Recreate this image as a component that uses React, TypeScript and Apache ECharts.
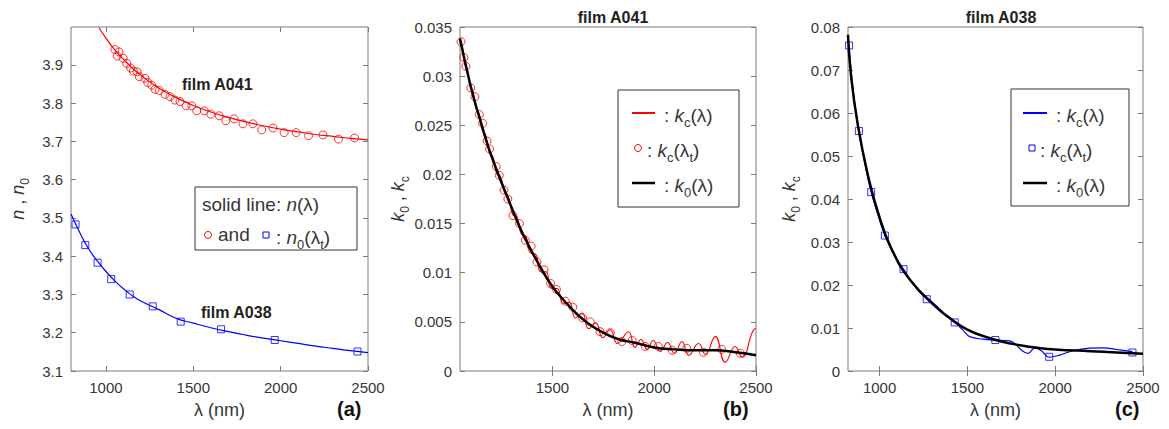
import React, { useEffect, useRef } from "react";
import * as echarts from "echarts";

// ---------- Panel (a): refractive index ----------
const lambdaT_A041 = [1051, 1065, 1075, 1099, 1119, 1141, 1157, 1179, 1191, 1224, 1239, 1262, 1281, 1306, 1338, 1367, 1395, 1424, 1459, 1491, 1520, 1563, 1600, 1648, 1686, 1734, 1784, 1841, 1892, 1956, 2020, 2089, 2160, 2242, 2331, 2423];
const n0_A041 = [3.940, 3.923, 3.934, 3.917, 3.904, 3.892, 3.884, 3.882, 3.869, 3.865, 3.854, 3.847, 3.836, 3.833, 3.823, 3.817, 3.808, 3.804, 3.793, 3.793, 3.780, 3.780, 3.771, 3.767, 3.754, 3.759, 3.746, 3.746, 3.730, 3.735, 3.723, 3.723, 3.715, 3.717, 3.706, 3.709];
const lambdaLine_A041 = [960, 1000, 1050, 1100, 1150, 1200, 1300, 1400, 1500, 1600, 1700, 1800, 1900, 2000, 2100, 2200, 2300, 2400, 2500];
const nLine_A041 = [3.997, 3.970, 3.940, 3.915, 3.892, 3.873, 3.840, 3.815, 3.794, 3.777, 3.763, 3.751, 3.741, 3.732, 3.725, 3.718, 3.713, 3.708, 3.704];

const lambdaT_A038 = [826, 882, 952, 1030, 1136, 1268, 1428, 1659, 1966, 2440];
const n0_A038 = [3.483, 3.429, 3.383, 3.340, 3.300, 3.269, 3.229, 3.209, 3.181, 3.151];
const lambdaLine_A038 = [800, 850, 900, 950, 1000, 1050, 1100, 1150, 1200, 1300, 1400, 1500, 1600, 1700, 1800, 1900, 2000, 2100, 2200, 2300, 2400, 2500];
const nLine_A038 = [3.510, 3.462, 3.420, 3.388, 3.360, 3.336, 3.315, 3.297, 3.283, 3.261, 3.238, 3.225, 3.213, 3.203, 3.194, 3.186, 3.179, 3.172, 3.165, 3.159, 3.153, 3.148];

const nTicks = [3.1, 3.2, 3.3, 3.4, 3.5, 3.6, 3.7, 3.8, 3.9];
const lambdaTicksA = [1000, 1500, 2000, 2500];

// ---------- Panel (b): film A041 extinction ----------
const kcT_A041 = [0.0335, 0.0319, 0.0310, 0.0288, 0.0279, 0.0261, 0.0252, 0.0234, 0.0226, 0.0208, 0.0199, 0.0184, 0.0175, 0.0158, 0.0150, 0.0133, 0.0127, 0.0111, 0.0103, 0.0089, 0.0083, 0.0071, 0.0065, 0.0054, 0.0050, 0.0040, 0.0039, 0.0030, 0.0031, 0.0025, 0.0025, 0.0021, 0.0023, 0.0019, 0.0022, 0.0018];
const lambdaKc_A041 = [1046, 1058, 1070, 1082, 1095, 1110, 1125, 1140, 1156, 1172, 1190, 1208, 1226, 1245, 1264, 1284, 1305, 1326, 1348, 1370, 1393, 1417, 1442, 1468, 1495, 1523, 1552, 1582, 1613, 1645, 1678, 1712, 1747, 1783, 1820, 1874, 1905, 1935, 1965, 1995, 2030, 2065, 2100, 2136, 2170, 2218, 2251, 2300, 2349, 2398, 2431, 2488, 2500];
const kcLine_A041 = [0.0338, 0.0330, 0.0312, 0.0307, 0.0290, 0.0284, 0.0267, 0.0262, 0.0245, 0.0240, 0.0222, 0.0218, 0.0201, 0.0198, 0.0182, 0.0177, 0.0159, 0.0157, 0.0139, 0.0137, 0.0120, 0.0119, 0.0101, 0.0101, 0.0084, 0.0084, 0.0069, 0.0070, 0.0054, 0.0059, 0.0043, 0.0049, 0.0034, 0.0042, 0.0028, 0.0040, 0.0024, 0.0032, 0.0022, 0.0031, 0.0020, 0.0029, 0.0018, 0.0030, 0.0016, 0.0028, 0.0017, 0.0035, 0.0009, 0.0025, 0.0014, 0.0042, 0.0043];
const lambdaK0_A041 = [1046, 1080, 1112, 1150, 1185, 1225, 1267, 1300, 1340, 1380, 1440, 1500, 1560, 1620, 1685, 1750, 1830, 1900, 2000, 2100, 2200, 2300, 2400, 2500];
const k0_A041 = [0.0338, 0.0306, 0.0279, 0.0252, 0.0228, 0.0205, 0.0183, 0.0166, 0.0146, 0.0129, 0.0106, 0.0086, 0.0071, 0.0058, 0.0047, 0.0039, 0.0032, 0.0029, 0.0024, 0.0022, 0.0021, 0.0021, 0.0019, 0.0016];
const kTicksB = [0, 0.005, 0.01, 0.015, 0.02, 0.025, 0.03, 0.035];
const lambdaTicksB = [1500, 2000, 2500];

// ---------- Panel (c): film A038 extinction ----------
const kcT_A038 = [0.0757, 0.0558, 0.0416, 0.0315, 0.0237, 0.0167, 0.0113, 0.0072, 0.0033, 0.0043];
const lambdaKc_A038 = [826, 850, 882, 915, 952, 990, 1030, 1080, 1136, 1200, 1268, 1340, 1428, 1475, 1513, 1589, 1659, 1741, 1769, 1807, 1845, 1883, 1921, 1966, 2025, 2101, 2196, 2272, 2348, 2440];
const kcLine_A038 = [0.0757, 0.0650, 0.0558, 0.0485, 0.0416, 0.0364, 0.0315, 0.0272, 0.0237, 0.0197, 0.0167, 0.0140, 0.0113, 0.0095, 0.0080, 0.0074, 0.0072, 0.0070, 0.0064, 0.0049, 0.0041, 0.0053, 0.0047, 0.0032, 0.0037, 0.0047, 0.0053, 0.0054, 0.0050, 0.0045];
const lambdaK0_A038 = [820, 837, 876, 933, 990, 1067, 1181, 1332, 1399, 1500, 1600, 1700, 1800, 1900, 2000, 2200, 2350, 2500];
const k0_A038 = [0.0782, 0.0688, 0.0572, 0.0456, 0.0370, 0.0285, 0.0208, 0.0146, 0.0123, 0.0096, 0.0080, 0.0068, 0.0060, 0.0054, 0.0050, 0.0046, 0.0043, 0.0040];
const kTicksC = [0, 0.01, 0.02, 0.03, 0.04, 0.05, 0.06, 0.07, 0.08];
const lambdaTicksC = [1000, 1500, 2000, 2500];

const zip = (xs: number[], ys: number[]) => xs.map((x, i) => [x, ys[i]]);

const FONT = "'Liberation Sans', Arial, Helvetica, sans-serif";
const AXIS = "#7a7a7a";
const TXT = "#363636";
const RED = "#ff0000";
const BLUE = "#0000ff";

const richMath = (size: number) => ({
  i: { fontStyle: "italic", fontSize: size, fontFamily: FONT, color: TXT },
  s: { fontSize: Math.round(size * 0.68), fontFamily: FONT, color: TXT, padding: [Math.round(size * 0.8), 0, 0, 0] },
  t: { fontSize: size, fontFamily: FONT, color: TXT },
});

function xAxes(gridIndex: number, min: number, max: number, ticks: number[]) {
  return [
    {
      type: "value", gridIndex, min, max, position: "bottom",
      axisLine: { show: false }, splitLine: { show: false },
      axisTick: { inside: true, length: 5, lineStyle: { color: AXIS }, customValues: ticks },
      axisLabel: { customValues: ticks, color: TXT, fontSize: 15, fontFamily: FONT, margin: 9, formatter: (v: number) => String(v) },
      name: "λ (nm)", nameLocation: "middle", nameGap: 30,
      nameTextStyle: { fontSize: 18, color: TXT, fontFamily: FONT },
    },
    {
      type: "value", gridIndex, min, max, position: "top",
      axisLine: { show: false }, splitLine: { show: false },
      axisTick: { inside: true, length: 5, lineStyle: { color: AXIS }, customValues: ticks },
      axisLabel: { show: false, customValues: ticks },
    },
  ];
}

function yAxes(gridIndex: number, min: number, max: number, ticks: number[], name: string, gap: number, fmt: (v: number) => string) {
  return [
    {
      type: "value", gridIndex, min, max, position: "left",
      axisLine: { show: false }, splitLine: { show: false },
      axisTick: { inside: true, length: 5, lineStyle: { color: AXIS }, customValues: ticks },
      axisLabel: { customValues: ticks, color: TXT, fontSize: 15, fontFamily: FONT, margin: 8, formatter: fmt },
      name, nameLocation: "middle", nameGap: gap, nameRotate: 90,
      nameTextStyle: { fontSize: 18, color: TXT, fontFamily: FONT, rich: richMath(18) },
    },
    {
      type: "value", gridIndex, min, max, position: "right",
      axisLine: { show: false }, splitLine: { show: false },
      axisTick: { inside: true, length: 5, lineStyle: { color: AXIS }, customValues: ticks },
      axisLabel: { show: false, customValues: ticks },
    },
  ];
}

const legendText = (x: number, y: number, text: string, size = 19) => ({
  type: "text", x, y,
  style: { text, fontSize: size, fontFamily: FONT, fill: TXT, verticalAlign: "middle", align: "left", rich: richMath(size) },
});

export default function App() {
  const ref = useRef<HTMLDivElement>(null);
  useEffect(() => {
    document.body.style.margin = "0";
    const chart = echarts.init(ref.current!, null, { renderer: "svg" });
    const grid = (left: number, width: number) => ({
      left, top: 27, width, height: 344, show: true, borderColor: AXIS, borderWidth: 1, backgroundColor: "transparent",
    });
    const option: any = {
      animation: false,
      backgroundColor: "#ffffff",
      grid: [grid(71, 297), grid(460, 296), grid(848, 295)],
      title: [
        { text: "film A041", left: 608, top: 4, textAlign: "center", textStyle: { fontSize: 16, fontWeight: "bold", fontFamily: FONT, color: "#222" } },
        { text: "film A038", left: 996, top: 4, textAlign: "center", textStyle: { fontSize: 16, fontWeight: "bold", fontFamily: FONT, color: "#222" } },
      ],
      xAxis: [
        ...xAxes(0, 800, 2500, lambdaTicksA),
        ...xAxes(1, 1046, 2500, lambdaTicksB),
        ...xAxes(2, 820, 2500, lambdaTicksC),
      ],
      yAxis: [
        ...yAxes(0, 3.1, 3.999, nTicks, "{i|n} , {i|n}{s|0}", 40, (v: number) => v.toFixed(1)),
        ...yAxes(1, 0, 0.035, kTicksB, "{i|k}{s|0} , {i|k}{s|c}", 48, (v: number) => String(+v.toFixed(3))),
        ...yAxes(2, 0, 0.08, kTicksC, "{i|k}{s|0} , {i|k}{s|c}", 46, (v: number) => String(+v.toFixed(2))),
      ],
      series: [
        // (a)
        { type: "line", xAxisIndex: 0, yAxisIndex: 0, data: zip(lambdaLine_A041, nLine_A041), smooth: true, showSymbol: false, lineStyle: { color: RED, width: 1.2 } },
        { type: "scatter", xAxisIndex: 0, yAxisIndex: 0, data: zip(lambdaT_A041, n0_A041), symbol: "circle", symbolSize: 8, itemStyle: { color: "transparent", borderColor: RED, borderWidth: 1 } },
        { type: "line", xAxisIndex: 0, yAxisIndex: 0, data: zip(lambdaLine_A038, nLine_A038), smooth: true, showSymbol: false, lineStyle: { color: BLUE, width: 1.2 } },
        { type: "scatter", xAxisIndex: 0, yAxisIndex: 0, data: zip(lambdaT_A038, n0_A038), symbol: "rect", symbolSize: 7, itemStyle: { color: "transparent", borderColor: BLUE, borderWidth: 1 } },
        // (b)
        { type: "line", xAxisIndex: 2, yAxisIndex: 2, data: zip(lambdaKc_A041, kcLine_A041), smooth: 0.5, showSymbol: false, lineStyle: { color: RED, width: 1.1 } },
        { type: "scatter", xAxisIndex: 2, yAxisIndex: 2, data: zip(lambdaT_A041, kcT_A041), symbol: "circle", symbolSize: 8, itemStyle: { color: "transparent", borderColor: RED, borderWidth: 1 } },
        { type: "line", xAxisIndex: 2, yAxisIndex: 2, data: zip(lambdaK0_A041, k0_A041), smooth: true, showSymbol: false, lineStyle: { color: "#000", width: 2.5 } },
        // (c)
        { type: "line", xAxisIndex: 4, yAxisIndex: 4, data: zip(lambdaKc_A038, kcLine_A038), smooth: 0.4, showSymbol: false, lineStyle: { color: BLUE, width: 1.2 } },
        { type: "scatter", xAxisIndex: 4, yAxisIndex: 4, data: zip(lambdaT_A038, kcT_A038), symbol: "rect", symbolSize: 7, itemStyle: { color: "transparent", borderColor: BLUE, borderWidth: 1 } },
        { type: "line", xAxisIndex: 4, yAxisIndex: 4, data: zip(lambdaK0_A038, k0_A038), smooth: true, showSymbol: false, lineStyle: { color: "#000", width: 2.5 } },
      ],
      graphic: [
        // panel (a) annotations
        { type: "text", x: 182, y: 84, style: { text: "film A041", fontSize: 16, fontWeight: "bold", fontFamily: FONT, fill: "#222", verticalAlign: "middle" } },
        { type: "text", x: 201, y: 312, style: { text: "film A038", fontSize: 16, fontWeight: "bold", fontFamily: FONT, fill: "#222", verticalAlign: "middle" } },
        // legend (a)
        { type: "rect", shape: { x: 195, y: 187, width: 162, height: 63 }, style: { fill: "#fff", stroke: "#333", lineWidth: 1 } },
        legendText(202, 204, "solid line: {i|n}(λ)"),
        { type: "circle", shape: { cx: 208, cy: 235, r: 3.5 }, style: { fill: "none", stroke: RED, lineWidth: 1 } },
        legendText(218, 234, "and"),
        { type: "rect", shape: { x: 263, y: 232, width: 6, height: 6 }, style: { fill: "none", stroke: BLUE, lineWidth: 1 } },
        legendText(276, 237, ": {i|n}{s|0}(λ{s|t})"),
        // legend (b)
        { type: "rect", shape: { x: 618, y: 90, width: 121, height: 117 }, style: { fill: "#fff", stroke: "#333", lineWidth: 1 } },
        { type: "line", shape: { x1: 632, y1: 113, x2: 655, y2: 113 }, style: { stroke: RED, lineWidth: 2 } },
        legendText(664, 115, ": {i|k}{s|c}(λ)"),
        { type: "circle", shape: { cx: 638, cy: 148, r: 3.5 }, style: { fill: "none", stroke: RED, lineWidth: 1 } },
        legendText(647, 150, ": {i|k}{s|c}(λ{s|t})"),
        { type: "line", shape: { x1: 632, y1: 183, x2: 655, y2: 183 }, style: { stroke: "#000", lineWidth: 2.5 } },
        legendText(664, 185, ": {i|k}{s|0}(λ)"),
        // legend (c)
        { type: "rect", shape: { x: 1011, y: 89, width: 118, height: 117 }, style: { fill: "#fff", stroke: "#333", lineWidth: 1 } },
        { type: "line", shape: { x1: 1023, y1: 113, x2: 1047, y2: 113 }, style: { stroke: BLUE, lineWidth: 2 } },
        legendText(1056, 115, ": {i|k}{s|c}(λ)"),
        { type: "rect", shape: { x: 1029, y: 145, width: 6, height: 6 }, style: { fill: "none", stroke: BLUE, lineWidth: 1 } },
        legendText(1040, 150, ": {i|k}{s|c}(λ{s|t})"),
        { type: "line", shape: { x1: 1023, y1: 183, x2: 1047, y2: 183 }, style: { stroke: "#000", lineWidth: 2.5 } },
        legendText(1056, 185, ": {i|k}{s|0}(λ)"),
        // panel letters
        { type: "text", x: 337, y: 409, style: { text: "(a)", fontSize: 20, fontWeight: "bold", fontFamily: FONT, fill: "#111", verticalAlign: "middle" } },
        { type: "text", x: 723, y: 409, style: { text: "(b)", fontSize: 20, fontWeight: "bold", fontFamily: FONT, fill: "#111", verticalAlign: "middle" } },
        { type: "text", x: 1115, y: 409, style: { text: "(c)", fontSize: 20, fontWeight: "bold", fontFamily: FONT, fill: "#111", verticalAlign: "middle" } },
      ],
    };
    chart.setOption(option);
    return () => chart.dispose();
  }, []);
  return <div ref={ref} style={{ width: 1169, height: 429 }} />;
}
